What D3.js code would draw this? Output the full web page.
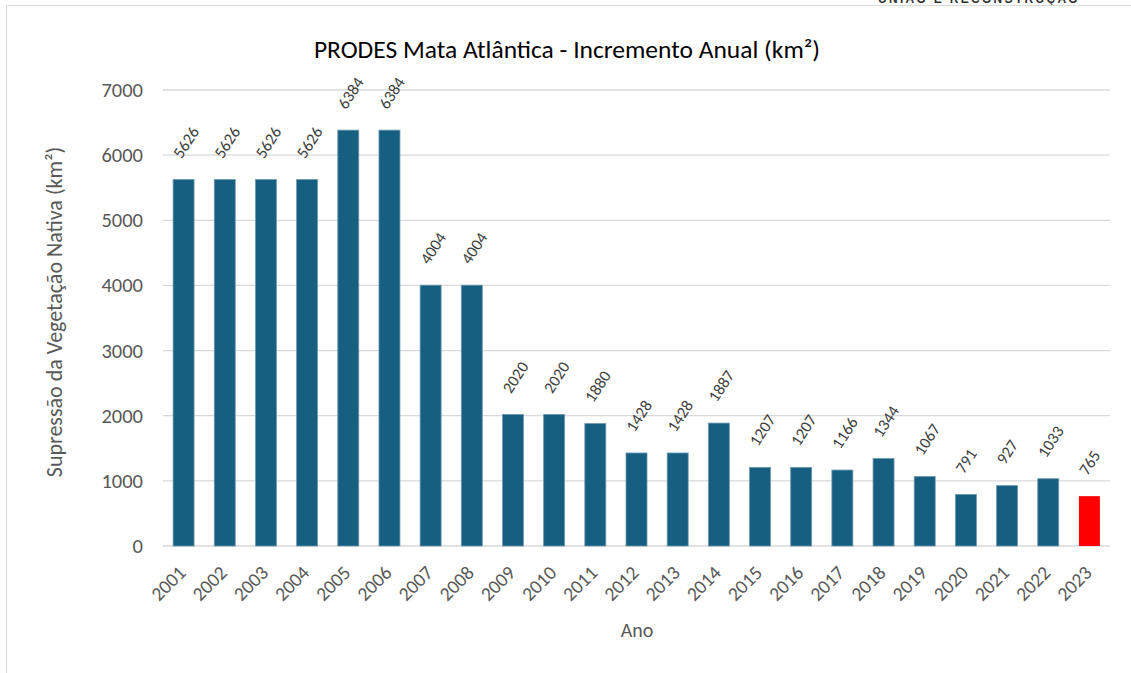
<!DOCTYPE html>
<html>
<head>
<meta charset="utf-8">
<script src="https://cdn.jsdelivr.net/npm/d3@7"></script>
<style>
  body { margin: 0; background: #fff; }
  svg { display: block; }
</style>
</head>
<body>
<svg id="chart"></svg>
<script>
// data
const years = ["2001","2002","2003","2004","2005","2006","2007","2008","2009","2010","2011","2012",
               "2013","2014","2015","2016","2017","2018","2019","2020","2021","2022","2023"]
const increments = [5626,5626,5626,5626,6384,6384,4004,4004,2020,2020,1880,1428,
                    1428,1887,1207,1207,1166,1344,1067,791,927,1033,765]
const yTicks = [0,1000,2000,3000,4000,5000,6000,7000]
const highlightYear = "2023"

const Width = 1131, Height = 673
const margin = { left: 163, right: 21, top: 90, bottom: 127 }
const font = "Carlito, Lato, 'Open Sans', sans-serif"
const grey = "#595959"

const svg = d3.select("#chart").attr("width", Width).attr("height", Height)

// cropped header text above the chart box
svg.append("text")
    .attr("x", 878).attr("y", 3)
    .attr("font-family", "'Liberation Sans', Arial, sans-serif")
    .attr("font-size", 12).attr("font-weight", "bold")
    .attr("letter-spacing", 2.3)
    .attr("fill", "#333")
    .text("UNIÃO E RECONSTRUÇÃO")

// chart area border
svg.append("rect")
    .attr("x", 6.5).attr("y", 5.5)
    .attr("width", Width + 20).attr("height", Height + 20)
    .attr("fill", "#fff")
    .attr("stroke", "#d9d9d9")

const x = d3.scaleBand()
    .domain(years)
    .range([margin.left, Width - margin.right])
    .paddingInner(0.49)
    .paddingOuter(0.245)

const y = d3.scaleLinear()
    .domain([0, 7000])
    .range([Height - margin.bottom, margin.top])

// gridlines
svg.append("g")
    .selectAll("line")
    .data(yTicks)
    .join("line")
    .attr("x1", margin.left).attr("x2", Width - margin.right)
    .attr("y1", d => y(d)).attr("y2", d => y(d))
    .attr("stroke", "#d9d9d9")
    .attr("stroke-width", 1.3)

// y axis labels (no domain line)
const yAxis = svg.append("g")
    .attr("transform", `translate(${margin.left},0)`)
    .call(d3.axisLeft(y).tickValues(yTicks).tickFormat(d3.format("d")).tickSize(0).tickPadding(20))
yAxis.select(".domain").remove()
yAxis.selectAll("text")
    .attr("font-family", font).attr("font-size", 20.5).attr("fill", grey)

// bars
svg.append("g")
    .selectAll("rect")
    .data(years)
    .join("rect")
    .attr("x", d => x(d))
    .attr("y", (d, i) => y(increments[i]))
    .attr("width", x.bandwidth())
    .attr("height", (d, i) => y(0) - y(increments[i]))
    .attr("fill", d => d === highlightYear ? "#ff0000" : "#175f80")
    .attr("stroke", d => d === highlightYear ? "none" : "#6f9ab0")
    .attr("stroke-width", 0.8)

// value labels, rotated
svg.append("g")
    .selectAll("text")
    .data(years)
    .join("text")
    .attr("transform", (d, i) => {
        const cx = x(d) + x.bandwidth() / 2
        return `translate(${cx - 2},${y(increments[i]) - 20}) rotate(-57)`
    })
    .attr("font-family", font).attr("font-size", 16.5).attr("fill", "#404040")
    .text((d, i) => increments[i])

// x axis tick labels, rotated 45
svg.append("g")
    .selectAll("text")
    .data(years)
    .join("text")
    .attr("transform", d => `translate(${x(d) + x.bandwidth() / 2 + 3.5},${574}) rotate(-45)`)
    .attr("text-anchor", "end")
    .attr("font-family", font).attr("font-size", 19.5).attr("fill", grey)
    .text(d => d)

// title
svg.append("text")
    .attr("x", 567).attr("y", 58)
    .attr("text-anchor", "middle")
    .attr("font-family", font).attr("font-size", 25.5).attr("fill", "#000")
    .text("PRODES Mata Atlântica - Incremento Anual (km²)")

// axis titles
svg.append("text")
    .attr("transform", "translate(62,312) rotate(-90)")
    .attr("text-anchor", "middle")
    .attr("font-family", font).attr("font-size", 22).attr("fill", grey)
    .text("Supressão da Vegetação Nativa (km²)")

svg.append("text")
    .attr("x", 637).attr("y", 637)
    .attr("text-anchor", "middle")
    .attr("font-family", font).attr("font-size", 20).attr("fill", grey)
    .text("Ano")
</script>
</body>
</html>
